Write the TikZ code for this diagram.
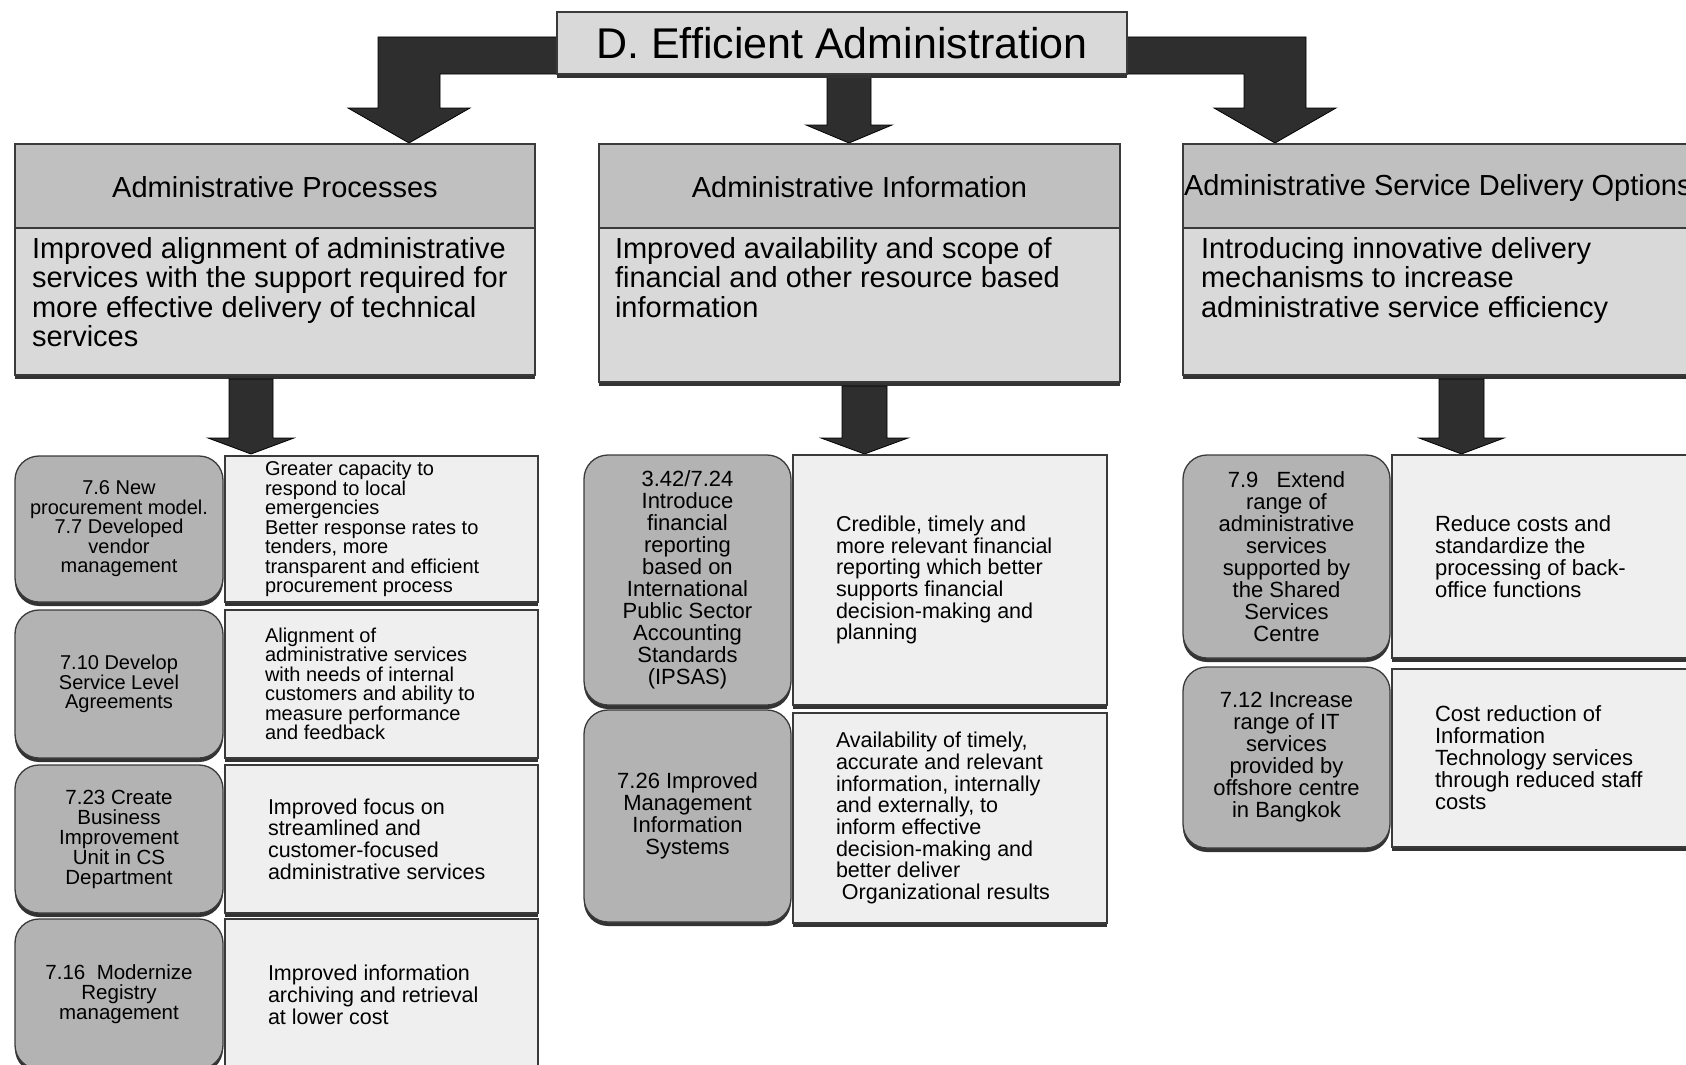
\documentclass[tikz,border=0pt]{standalone}
\usepackage{fontspec}
\setmainfont{Liberation Sans}
\usetikzlibrary{shadows,calc}
\definecolor{shd}{HTML}{333333}
\definecolor{titlefill}{HTML}{D9D9D9}
\definecolor{hdrfill}{HTML}{C0C0C0}
\definecolor{bodyfill}{HTML}{D9D9D9}
\definecolor{rndfill}{HTML}{B3B3B3}
\definecolor{cellfill}{HTML}{EFEFEF}
\definecolor{arrowfill}{HTML}{2E2E2E}
\definecolor{edge}{HTML}{3A3A3A}
\begin{document}
\begin{tikzpicture}[x=1pt,y=-1pt,
  every node/.style={inner sep=0pt, outer sep=0pt},
  boxline/.style={draw=edge, line width=1.3pt},
  shadowed/.style={general shadow={fill=shd, shadow yshift=-4pt}},
  titlebox/.style={boxline, shadowed, fill=titlefill, anchor=north west,
    font=\fontsize{43pt}{45pt}\selectfont},
  hdrbox/.style={boxline, fill=hdrfill, anchor=north west},
  bodybox/.style={boxline, shadowed, fill=bodyfill, anchor=north west},
  hdrtext/.style={font=\fontsize{29pt}{30pt}\selectfont},
  bodytext/.style={anchor=north west, align=left, font=\fontsize{29pt}{29.5pt}\selectfont},
  rndbox/.style={boxline, shadowed, fill=rndfill, rounded corners=24pt, anchor=north west, align=center},
  cellbox/.style={boxline, shadowed, fill=cellfill, anchor=north west},
  celltext/.style={anchor=west, align=left},
  fa/.style={font=\fontsize{20pt}{19.5pt}\selectfont},
  fb/.style={font=\fontsize{20.5pt}{20pt}\selectfont},
  fc/.style={font=\fontsize{21.5pt}{21.7pt}\selectfont},
  fd/.style={font=\fontsize{22pt}{22pt}\selectfont},
  blockarrow/.style={fill=arrowfill, draw=black, line width=0.8pt, line join=miter}
]
\useasboundingbox (0,0) rectangle (1686,1065);
\clip (0,0) rectangle (1686,1065);

% ---------- block arrows from the title ----------
\draw[blockarrow] (557,37) -- (378,37) -- (378,108) -- (348,108) -- (409,143) -- (470,108) -- (440,108) -- (440,74) -- (557,74) -- cycle;
\draw[blockarrow] (1127,37) -- (1306,37) -- (1306,108) -- (1336,108) -- (1275,143) -- (1214,108) -- (1244,108) -- (1244,74) -- (1127,74) -- cycle;
\draw[blockarrow] (827,74) -- (871,74) -- (871,125) -- (892,125) -- (849,143) -- (806,125) -- (827,125) -- cycle;

% ---------- title ----------
\node[titlebox, minimum width=570pt, minimum height=62pt] (title) at (557,12) {D. Efficient Administration};

% ---------- level 2 boxes ----------
\node[bodybox, minimum width=520pt, minimum height=147pt] (bA) at (15,228) {};
\node[hdrbox, minimum width=520pt, minimum height=84pt] (hA) at (15,144) {};
\node[hdrtext] (hAt) at ([yshift=-1pt]hA.center) {Administrative Processes};
\node[bodytext] (bAt) at (32,237) {Improved alignment of administrative\\services with the support required for\\more effective delivery of technical\\services};

\node[bodybox, minimum width=521pt, minimum height=154pt] (bB) at (599,228) {};
\node[hdrbox, minimum width=521pt, minimum height=84pt] (hB) at (599,144) {};
\node[hdrtext] (hBt) at ([yshift=-1pt]hB.center) {Administrative Information};
\node[bodytext] (bBt) at (615,237) {Improved availability and scope of\\financial and other resource based\\information};

\node[bodybox, minimum width=522pt, minimum height=147pt] (bC) at (1183,228) {};
\node[hdrbox, minimum width=522pt, minimum height=84pt] (hC) at (1183,144) {};
\node[hdrtext, anchor=west] (hCt) at ([xshift=1pt,yshift=-2pt]hC.west) {Administrative Service Delivery Options};
\node[bodytext] (bCt) at (1201,237) {Introducing innovative delivery\\mechanisms to increase\\administrative service efficiency};

% ---------- lower block arrows ----------
\draw[blockarrow] (229,379) -- (273,379) -- (273,438) -- (294,438) -- (251,454) -- (208,438) -- (229,438) -- cycle;
\draw[blockarrow] (842,386) -- (887,386) -- (887,438) -- (908,438) -- (864.5,454) -- (821,438) -- (842,438) -- cycle;
\draw[blockarrow] (1439,379) -- (1484,379) -- (1484,438) -- (1504,438) -- (1461.5,454) -- (1419,438) -- (1439,438) -- cycle;

% ---------- left column ----------
\node[rndbox, fa, minimum width=208pt, minimum height=146pt] (L1c) at (15,456)
  {7.6 New\\procurement model.\\7.7 Developed\\vendor\\management};
\node[cellbox, minimum width=313pt, minimum height=146pt] (L1r) at (225,456) {};
\node[celltext, fa] (L1t) at ([xshift=40pt]L1r.west)
  {Greater capacity to\\respond to local\\emergencies\\Better response rates to\\tenders, more\\transparent and efficient\\procurement process};

\node[rndbox, fa, minimum width=208pt, minimum height=148pt] (L2c) at (15,610)
  {7.10 Develop\\Service Level\\Agreements};
\node[cellbox, minimum width=313pt, minimum height=148pt] (L2r) at (225,610) {};
\node[celltext, fa] (L2t) at ([xshift=40pt]L2r.west)
  {Alignment of\\administrative services\\with needs of internal\\customers and ability to\\measure performance\\and feedback};

\node[rndbox, fb, minimum width=208pt, minimum height=148pt] (L3c) at (15,765)
  {7.23 Create\\Business\\Improvement\\Unit in CS\\Department};
\node[cellbox, minimum width=313pt, minimum height=148pt] (L3r) at (225,765) {};
\node[celltext, fc] (L3t) at ([xshift=43pt]L3r.west)
  {Improved focus on\\streamlined and\\customer-focused\\administrative services};

\node[rndbox, fb, minimum width=208pt, minimum height=150pt] (L4c) at (15,919)
  {7.16\ \ Modernize\\Registry\\management};
\node[cellbox, minimum width=313pt, minimum height=152pt] (L4r) at (225,919) {};
\node[celltext, fc] (L4t) at ([xshift=43pt]L4r.west)
  {Improved information\\archiving and retrieval\\at lower cost};

% ---------- middle column ----------
\node[rndbox, fd, minimum width=207pt, minimum height=250pt] (M1c) at (584,455)
  {3.42/7.24\\Introduce\\financial\\reporting\\based on\\International\\Public Sector\\Accounting\\Standards\\(IPSAS)};
\node[cellbox, minimum width=314pt, minimum height=250pt] (M1r) at (793,455) {};
\node[celltext, fc] (M1t) at ([xshift=43pt]M1r.west)
  {Credible, timely and\\more relevant financial\\reporting which better\\supports financial\\decision-making and\\planning};

\node[rndbox, fd, minimum width=207pt, minimum height=212pt] (M2c) at (584,710)
  {7.26 Improved\\Management\\Information\\Systems};
\node[cellbox, minimum width=314pt, minimum height=210pt] (M2r) at (793,713) {};
\node[celltext, fc] (M2t) at ([xshift=43pt]M2r.west)
  {Availability of timely,\\accurate and relevant\\information, internally\\and externally, to\\inform effective\\decision-making and\\better deliver\\\ Organizational results};

% ---------- right column ----------
\node[rndbox, fd, minimum width=207pt, minimum height=203pt] (S1c) at (1183,455)
  {7.9\ \ \ Extend\\range of\\administrative\\services\\supported by\\the Shared\\Services\\Centre};
\node[cellbox, minimum width=310pt, minimum height=203pt] (S1r) at (1392,455) {};
\node[celltext, fd] (S1t) at ([xshift=43pt]S1r.west)
  {Reduce costs and\\standardize the\\processing of back-\\office functions};

\node[rndbox, fd, minimum width=207pt, minimum height=181pt] (S2c) at (1183,667)
  {7.12 Increase\\range of IT\\services\\provided by\\offshore centre\\in Bangkok};
\node[cellbox, minimum width=310pt, minimum height=178pt] (S2r) at (1392,669) {};
\node[celltext, fd] (S2t) at ([xshift=43pt]S2r.west)
  {Cost reduction of\\Information\\Technology services\\through reduced staff\\costs};
\end{tikzpicture}
\end{document}
